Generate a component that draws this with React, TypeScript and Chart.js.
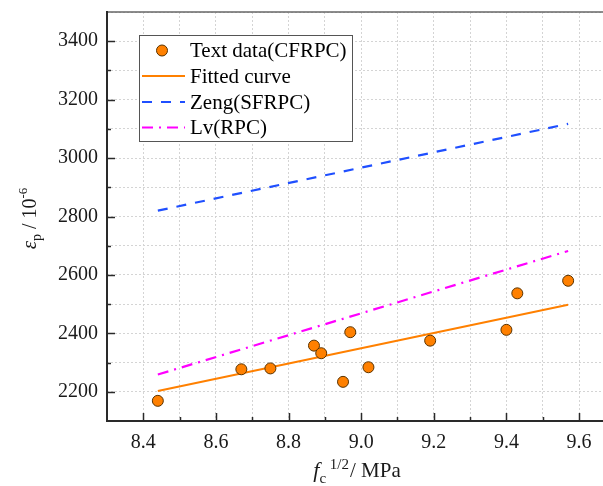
import React, { useEffect, useRef } from "react";
import { Chart, registerables } from "chart.js";

Chart.register(...registerables);

// ---- data ----
const testX = [8.44, 8.67, 8.75, 8.87, 8.89, 8.95, 8.97, 9.02, 9.19, 9.40, 9.43, 9.57];
const testY = [2169, 2277, 2280, 2358, 2332, 2234, 2404, 2284, 2375, 2412, 2537, 2580];
const fitX = [8.44, 9.57];
const fitY = [2203, 2498];
const zengX = [8.44, 9.57];
const zengY = [2820, 3117];
const lvX = [8.44, 9.57];
const lvY = [2259, 2682];

const xTicks = [8.3, 8.4, 8.5, 8.6, 8.7, 8.8, 8.9, 9.0, 9.1, 9.2, 9.3, 9.4, 9.5, 9.6];
const xMajorLabels = ["8.4", "8.6", "8.8", "9.0", "9.2", "9.4", "9.6"];
const yTicks = [2100, 2200, 2300, 2400, 2500, 2600, 2700, 2800, 2900, 3000, 3100, 3200, 3300, 3400, 3500];
const yMajorLabels = ["2200", "2400", "2600", "2800", "3000", "3200", "3400"];
const seriesNames = ["Text data(CFRPC)", "Fitted curve", "Zeng(SFRPC)", "Lv(RPC)"];

const SERIF = "'Liberation Serif', 'Times New Roman', serif";
const TEXT = "#1a1a1a";
const ORANGE = "#ff8000";
const BLUE = "#1f4fff";
const MAGENTA = "#ff00ff";
const ZENG_DASH = [10, 9];
const LV_DASH = [11, 6, 2, 6];

const toPts = (xs: number[], ys: number[]) => xs.map((x, i) => ({ x, y: ys[i] }));

type Seg = { t: string; size: number; italic?: boolean; dy?: number; dx?: number };

function drawRich(ctx: CanvasRenderingContext2D, segs: Seg[], cx: number, baseY: number) {
  const font = (s: Seg) => `${s.italic ? "italic " : ""}${s.size}px ${SERIF}`;
  let total = 0;
  const widths = segs.map((s) => {
    ctx.font = font(s);
    const w = ctx.measureText(s.t).width + (s.dx || 0);
    total += w;
    return w;
  });
  let x = cx - total / 2;
  ctx.textAlign = "left";
  ctx.textBaseline = "alphabetic";
  segs.forEach((s, i) => {
    ctx.font = font(s);
    ctx.fillText(s.t, x + (s.dx || 0), baseY + (s.dy || 0));
    x += widths[i];
  });
}

const decorPlugin = {
  id: "decor",
  afterDraw(chart: any) {
    const { ctx, chartArea: a, scales } = chart;
    const xs = scales.x;
    const ys = scales.y;
    ctx.save();

    // axis frame
    ctx.setLineDash([]);
    ctx.strokeStyle = "#666";
    ctx.lineWidth = 1.5;
    ctx.beginPath();
    ctx.moveTo(a.left, a.top);
    ctx.lineTo(a.right, a.top);
    ctx.stroke();
    ctx.strokeStyle = "#2a2a2a";
    ctx.lineWidth = 2;
    ctx.beginPath();
    ctx.moveTo(a.left, a.top - 1);
    ctx.lineTo(a.left, a.bottom);
    ctx.lineTo(a.right, a.bottom);
    ctx.stroke();

    // inward tick marks
    ctx.lineWidth = 1.5;
    xTicks.forEach((v) => {
      const major = xMajorLabels.includes(v.toFixed(1));
      const px = Math.round(xs.getPixelForValue(v)) + 0.5;
      if (px <= a.left + 1) return;
      ctx.beginPath();
      ctx.moveTo(px, a.bottom);
      ctx.lineTo(px, a.bottom - (major ? 8 : 4));
      ctx.stroke();
    });
    yTicks.forEach((v) => {
      const major = yMajorLabels.includes(String(v));
      const py = Math.round(ys.getPixelForValue(v)) + 0.5;
      if (py >= a.bottom - 1 || py <= a.top + 1) return;
      ctx.beginPath();
      ctx.moveTo(a.left, py);
      ctx.lineTo(a.left + (major ? 8 : 4), py);
      ctx.stroke();
    });

    // axis titles
    ctx.fillStyle = TEXT;
    drawRich(
      ctx,
      [
        { t: "f", size: 22, italic: true },
        { t: "c", size: 15, dy: 6 },
        { t: " 1/2", size: 15, dy: -8 },
        { t: "/ MPa", size: 21, dx: 1 },
      ],
      (a.left + a.right) / 2 + 2,
      477
    );
    ctx.save();
    ctx.translate(36, (a.top + a.bottom) / 2 + 2);
    ctx.rotate(-Math.PI / 2);
    drawRich(
      ctx,
      [
        { t: "ε", size: 21, italic: true },
        { t: "p", size: 14, dy: 5 },
        { t: " / 10", size: 20 },
        { t: "-6", size: 13, dy: -9 },
      ],
      0,
      0
    );
    ctx.restore();

    // legend
    const bx = 139.5, by = 35.5, bw = 213, bh = 106;
    ctx.fillStyle = "#ffffff";
    ctx.fillRect(bx, by, bw, bh);
    ctx.strokeStyle = "#555";
    ctx.lineWidth = 1;
    ctx.strokeRect(bx, by, bw, bh);
    const rows = [50.5, 76, 102, 127.5];
    const ds = chart.data.datasets;
    ctx.font = `21px ${SERIF}`;
    ctx.textAlign = "left";
    ctx.textBaseline = "middle";
    rows.forEach((ry, i) => {
      const d = ds[i];
      if (i === 0) {
        ctx.beginPath();
        ctx.arc(162, ry, 5.5, 0, Math.PI * 2);
        ctx.fillStyle = d.backgroundColor;
        ctx.fill();
        ctx.strokeStyle = d.borderColor;
        ctx.lineWidth = 1;
        ctx.stroke();
      } else {
        ctx.strokeStyle = d.borderColor;
        ctx.lineWidth = 2;
        ctx.setLineDash(d.borderDash || []);
        ctx.beginPath();
        ctx.moveTo(142, ry);
        ctx.lineTo(185, ry);
        ctx.stroke();
        ctx.setLineDash([]);
      }
      ctx.fillStyle = "#000";
      ctx.fillText(seriesNames[i], 190, ry + 1);
    });

    ctx.restore();
  },
};

export default function App() {
  const ref = useRef<HTMLCanvasElement | null>(null);

  useEffect(() => {
    document.body.style.margin = "0";
    const canvas = ref.current;
    if (!canvas) return;
    const chart = new Chart(canvas, {
      type: "scatter",
      data: {
        datasets: [
          {
            label: seriesNames[0],
            data: toPts(testX, testY),
            backgroundColor: ORANGE,
            borderColor: "#5a3300",
            borderWidth: 1,
            pointRadius: 5.5,
            showLine: false,
            order: 0,
          },
          {
            label: seriesNames[1],
            data: toPts(fitX, fitY),
            borderColor: ORANGE,
            backgroundColor: ORANGE,
            borderWidth: 2,
            pointRadius: 0,
            showLine: true,
            order: 1,
          },
          {
            label: seriesNames[2],
            data: toPts(zengX, zengY),
            borderColor: BLUE,
            backgroundColor: BLUE,
            borderWidth: 2.2,
            borderDash: ZENG_DASH,
            pointRadius: 0,
            showLine: true,
            order: 2,
          },
          {
            label: seriesNames[3],
            data: toPts(lvX, lvY),
            borderColor: MAGENTA,
            backgroundColor: MAGENTA,
            borderWidth: 2.2,
            borderDash: LV_DASH,
            pointRadius: 0,
            showLine: true,
            order: 3,
          },
        ],
      },
      options: {
        responsive: false,
        animation: false,
        devicePixelRatio: 1,
        layout: { autoPadding: false, padding: { top: 12, left: 0, right: 0, bottom: 0 } },
        plugins: { legend: { display: false }, tooltip: { enabled: false } },
        scales: {
          x: {
            type: "linear",
            min: 8.3,
            max: 9.666,
            afterBuildTicks: (s: any) => {
              s.ticks = xTicks.map((v) => ({ value: v }));
            },
            afterFit: (s: any) => {
              s.height = 65;
              s.paddingLeft = 0;
              s.paddingRight = 0;
            },
            grid: { color: "#d4d4d4", lineWidth: 1, drawTicks: false },
            border: { display: false, dash: [2, 2] },
            ticks: {
              autoSkip: false,
              maxRotation: 0,
              padding: 10,
              color: TEXT,
              font: { family: SERIF, size: 20 },
              callback: (v: any) => {
                const s = Number(v).toFixed(1);
                return xMajorLabels.includes(s) ? s : "";
              },
            },
          },
          y: {
            type: "linear",
            min: 2100,
            max: 3500,
            afterBuildTicks: (s: any) => {
              s.ticks = yTicks.map((v) => ({ value: v }));
            },
            afterFit: (s: any) => {
              s.width = 107;
              s.paddingTop = 0;
              s.paddingBottom = 0;
            },
            grid: { color: "#d4d4d4", lineWidth: 1, drawTicks: false },
            border: { display: false, dash: [2, 2] },
            ticks: {
              autoSkip: false,
              padding: 9,
              color: TEXT,
              font: { family: SERIF, size: 20 },
              callback: (v: any) => {
                const s = String(Math.round(Number(v)));
                return yMajorLabels.includes(s) ? s : "";
              },
            },
          },
        },
      },
      plugins: [decorPlugin],
    } as any);
    return () => chart.destroy();
  }, []);

  return (
    <div style={{ position: "absolute", left: 0, top: 0, width: 603, height: 486, background: "#fff" }}>
      <canvas ref={ref} width={603} height={486} style={{ width: 603, height: 486, display: "block" }} />
    </div>
  );
}
